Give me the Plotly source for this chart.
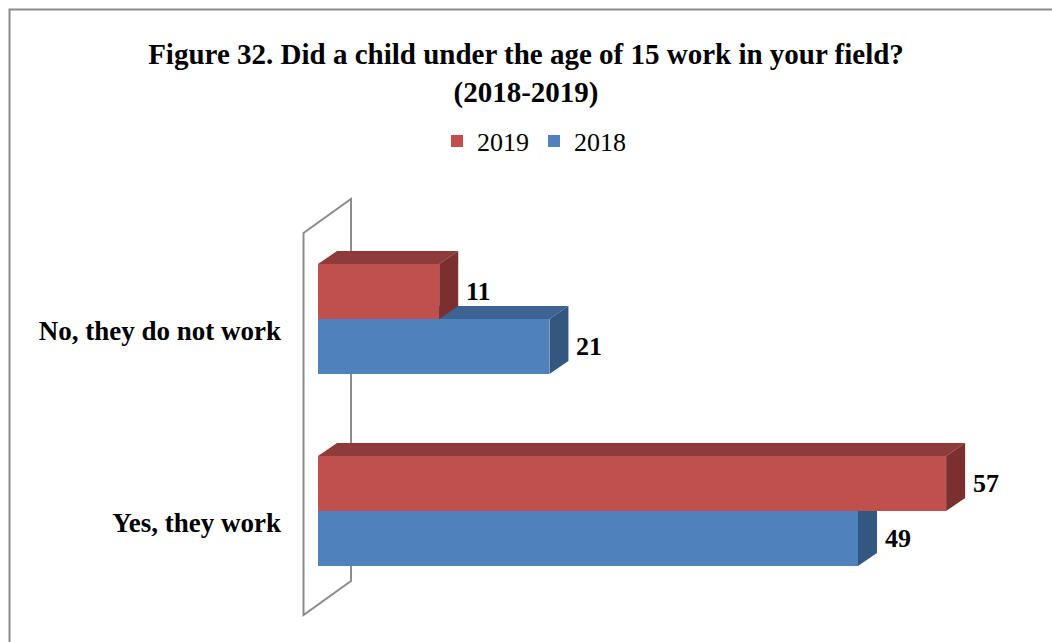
import plotly.graph_objects as go

# Survey answers, percent of respondents
categories = ["Yes, they work", "No, they do not work"]
values_2019 = [57, 11]
values_2018 = [49, 21]
series_names = ["2018", "2019"]

# Colours: front face, top face, side face
RED = ("#C0504D", "#8F3B39", "#7B302F")
BLUE = ("#4F81BD", "#3C6391", "#33577F")
WALL = "#8C8C8C"
FONT = "Liberation Serif"

# Canvas and plot-area geometry (pixels)
W, H = 1052, 642
L, R_EDGE, T, B_EDGE = 286, 1012, 180, 630
X0_PX = 318          # pixel column of value 0
KX = 11.02           # pixels per percentage point
Y0_PX = 511          # pixel row of the first category centre
KY = 192             # pixels per category step
PW, PH = R_EDGE - L, B_EDGE - T

x_range = [-(X0_PX - L) / KX, (R_EDGE - X0_PX) / KX]
y_range = [(Y0_PX - B_EDGE) / KY, (Y0_PX - T) / KY]

bar_h = 55 / KY          # thickness of one bar
dx, dy = 19 / KX, 13 / KY  # oblique depth of each bar
ypos = list(range(len(categories)))

fig = go.Figure()

shapes = []

# Side wall of the 3-D box, drawn as an outline behind the bars
wf_x = (303.5 - X0_PX) / KX
wb_x = wf_x + 47.5 / KX
wf_top, wf_bot = (Y0_PX - 233) / KY, (Y0_PX - 615) / KY
wdy = 34 / KY
shapes.append(dict(
    type="path", layer="below", xref="x", yref="y",
    path=(f"M{wf_x},{wf_top} L{wb_x},{wf_top + wdy} "
          f"L{wb_x},{wf_bot + wdy} L{wf_x},{wf_bot} Z"),
    line=dict(color=WALL, width=2), fillcolor="rgba(0,0,0,0)",
))


def depth_faces(vals, offset, colours):
    out = []
    for y, v in zip(ypos, vals):
        y_lo = y + offset
        y_hi = y_lo + bar_h
        # top face
        out.append(dict(
            type="path", layer="below", xref="x", yref="y",
            path=(f"M0,{y_hi} L{dx},{y_hi + dy} L{v + dx},{y_hi + dy} "
                  f"L{v},{y_hi} Z"),
            fillcolor=colours[1], line=dict(width=0),
        ))
        # right-hand side face
        out.append(dict(
            type="path", layer="below", xref="x", yref="y",
            path=(f"M{v},{y_lo} L{v + dx},{y_lo + dy} L{v + dx},{y_hi + dy} "
                  f"L{v},{y_hi} Z"),
            fillcolor=colours[2], line=dict(width=0),
        ))
    return out


shapes += depth_faces(values_2018, -bar_h, BLUE)
shapes += depth_faces(values_2019, 0, RED)

# Front faces of the bars
for name, vals, offset, colours in [
    (series_names[0], values_2018, -bar_h, BLUE),
    (series_names[1], values_2019, 0, RED),
]:
    fig.add_trace(go.Bar(
        name=name, orientation="h", x=vals, y=ypos,
        width=bar_h, offset=offset,
        marker=dict(color=colours[0], line=dict(width=0)),
        hoverinfo="x+name",
    ))

# Value labels beside each bar
annotations = []
for vals, offset in [(values_2018, -bar_h), (values_2019, 0)]:
    for y, v in zip(ypos, vals):
        annotations.append(dict(
            x=v + dx, y=y + offset + bar_h / 2, xref="x", yref="y",
            text=f"<b>{v}</b>", showarrow=False,
            xanchor="left", yanchor="middle", xshift=6,
            font=dict(family=FONT, size=26, color="black"),
        ))

# Outer chart border
def px_x(p):
    return (p - L) / PW


def px_y(p):
    return (B_EDGE - p) / PH


shapes.append(dict(
    type="rect", xref="paper", yref="paper", layer="above",
    x0=px_x(9.5), x1=px_x(1070), y0=px_y(9.5), y1=px_y(660),
    line=dict(color="#8C8C8C", width=2), fillcolor="rgba(0,0,0,0)",
))

fig.update_layout(
    width=W, height=H,
    margin=dict(l=L, r=W - R_EDGE, t=T, b=H - B_EDGE, pad=0),
    paper_bgcolor="white", plot_bgcolor="white",
    title=dict(
        text=("<b>Figure 32. Did a child under the age of 15 work in your field?"
              "<br>(2018-2019)</b>"),
        x=0.5, xref="container", xanchor="center",
        y=1 - 64 / H, yref="container", yanchor="top",
        font=dict(family=FONT, size=29, color="black"),
    ),
    showlegend=True,
    legend=dict(
        orientation="h", traceorder="reversed",
        x=px_x(534), xanchor="center", y=px_y(141), yanchor="middle",
        font=dict(family=FONT, size=26, color="black"),
        itemwidth=30, bgcolor="rgba(0,0,0,0)",
    ),
    xaxis=dict(range=x_range, visible=False, fixedrange=True),
    yaxis=dict(
        range=y_range, tickvals=ypos, ticktext=categories,
        showgrid=False, zeroline=False, showline=False, ticks="",
        tickfont=dict(family=FONT, size=27, color="black", weight="bold"),
        ticklabelshift=12, ticklabelstandoff=4, fixedrange=True,
    ),
    shapes=shapes,
    annotations=annotations,
    bargap=0,
)

fig.write_html("out.html")
